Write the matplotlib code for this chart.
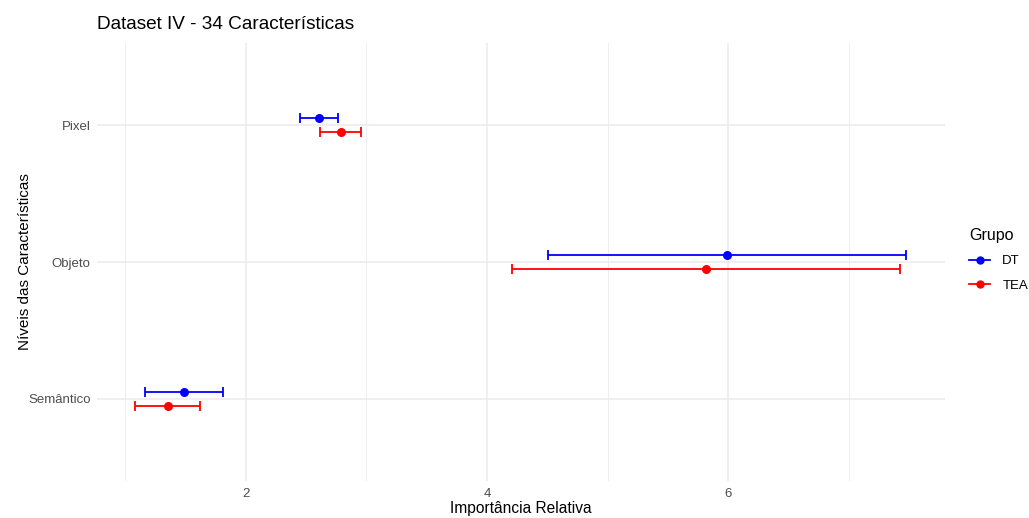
import matplotlib.pyplot as plt
import numpy as np
from matplotlib.lines import Line2D

plt.rcParams["font.family"] = ["Liberation Sans", "DejaVu Sans"]

niveis = ["Semântico", "Objeto", "Pixel"]
grupos = ["DT", "TEA"]
cores = {"DT": "#0000FF", "TEA": "#FF0000"}

media = {
    "DT": [1.485, 5.99, 2.606],
    "TEA": [1.353, 5.817, 2.788],
}
inferior = {
    "DT": [1.162, 4.506, 2.448],
    "TEA": [1.087, 4.207, 2.614],
}
superior = {
    "DT": [1.809, 7.477, 2.763],
    "TEA": [1.618, 7.427, 2.954],
}
deslocamento = {"DT": 0.05, "TEA": -0.05}

W, H = 1029, 518
fig = plt.figure(figsize=(W / 100, H / 100), dpi=100)
ax = fig.add_axes([97 / W, (H - 481) / H, (945 - 97) / W, (481 - 43) / H])

y = np.arange(1, len(niveis) + 1)
for g in grupos:
    yy = y + deslocamento[g]
    m = np.array(media[g])
    lo = np.array(inferior[g])
    hi = np.array(superior[g])
    ax.errorbar(m, yy, xerr=[m - lo, hi - m], fmt="none", ecolor=cores[g],
                elinewidth=1.3, capsize=3.5, capthick=1.3, zorder=3)
    ax.scatter(m, yy, s=30, color=cores[g], zorder=4)

ax.set_xlim(0.768, 7.797)
ax.set_ylim(0.4, 3.6)
ax.set_yticks(y)
ax.set_yticklabels(niveis)
ax.set_xticks([2, 4, 6])
ax.set_xticks([1, 3, 5, 7], minor=True)
ax.grid(True, which="major", color="#EBEBEB", linewidth=1.1)
ax.grid(True, which="minor", axis="x", color="#EBEBEB", linewidth=0.6)
ax.set_axisbelow(True)
for s in ax.spines.values():
    s.set_visible(False)
ax.tick_params(which="both", length=0, labelsize=9.5, labelcolor="#4D4D4D")
ax.tick_params(axis="y", pad=4.5)
ax.tick_params(axis="x", pad=5)

ax.set_xlabel("Importância Relativa", fontsize=11.2, labelpad=1)
ax.set_ylabel("Níveis das Características", fontsize=11, labelpad=-3)
ax.set_title("Dataset IV - 34 Características", loc="left", fontsize=13.7, pad=10)

fig.text(521 / W, 1.0 + 14 / H, "( )", ha="center", va="center", fontsize=16)

handles = [Line2D([0], [0], color=cores[g], marker="o", markersize=5, linewidth=1.3)
           for g in grupos]
leg = fig.legend(handles, grupos, title="Grupo", loc="center left",
                 bbox_to_anchor=(964 / W, (H - 260) / H), frameon=False,
                 fontsize=9.5, title_fontsize=11.5, handlelength=1.6,
                 handletextpad=0.9, labelspacing=0.9, borderaxespad=0)
leg._legend_box.align = "left"

fig.savefig("out.png", dpi=100)
